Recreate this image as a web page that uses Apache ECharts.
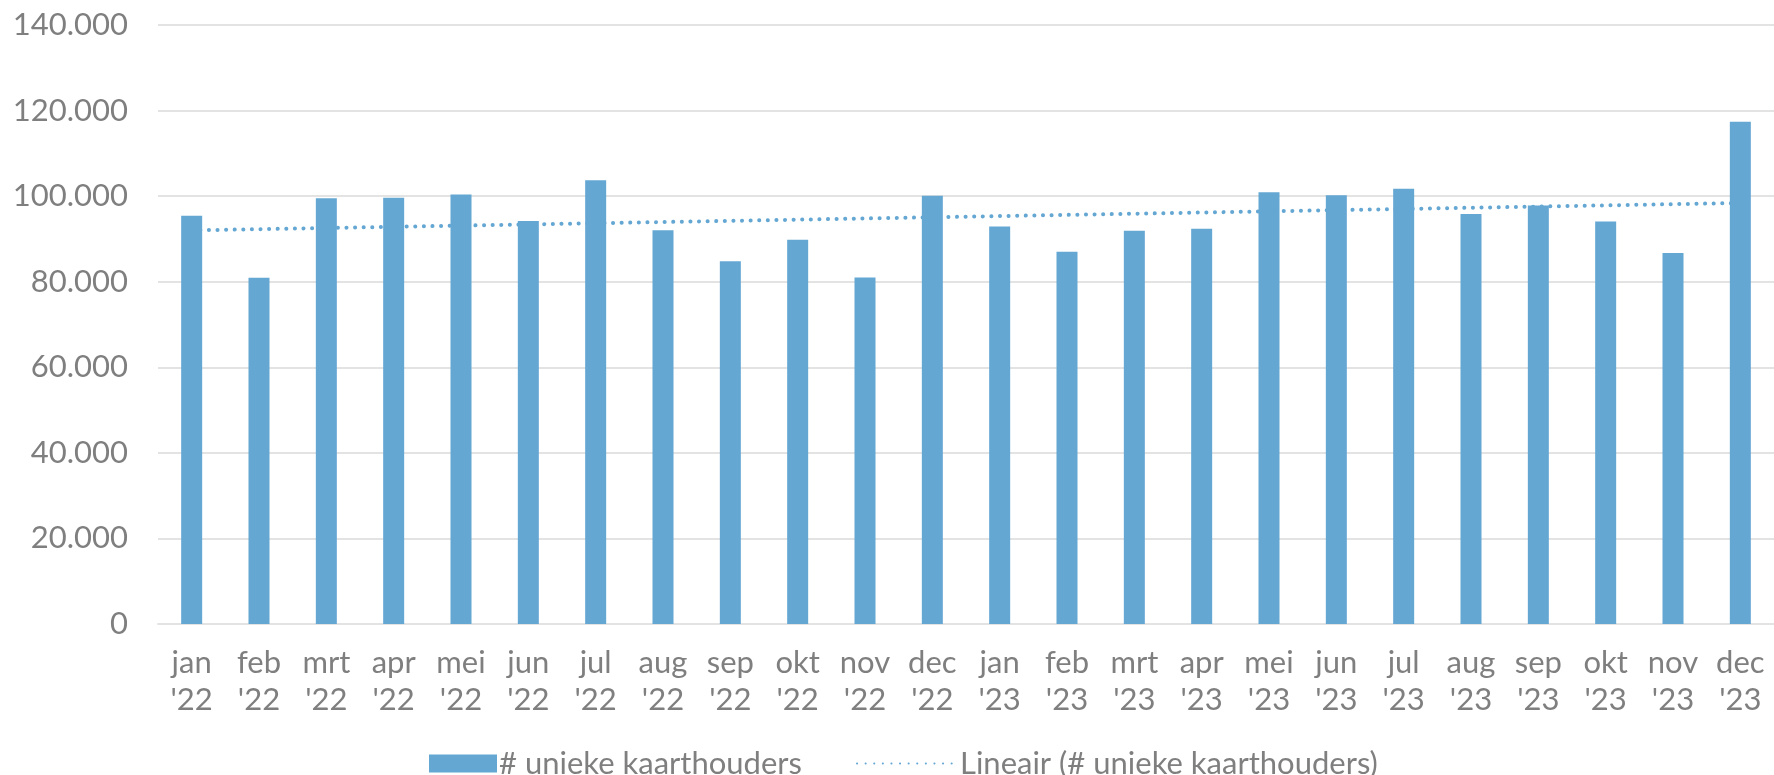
<!DOCTYPE html>
<html lang="nl">
<head>
    <meta charset="UTF-8">
    <title>Unieke kaarthouders</title>
    <script type="text/javascript" src="https://cdn.jsdelivr.net/npm/echarts@6/dist/echarts.min.js"></script>
    <style>
        html, body {
            width: 100%;
            height: 100%;
            margin: 0;
            padding: 0;
            background: #fff;
        }
        #main {
            width: 1774px;
            height: 775px;
        }
    </style>
</head>
<body>
    <div id="main"></div>
    <script>
        // data
        var months = ['jan', 'feb', 'mrt', 'apr', 'mei', 'jun', 'jul', 'aug', 'sep', 'okt', 'nov', 'dec'];
        var years = ["'22", "'23"];
        var kaarthouders = [
            95400, 80900, 99500, 99600, 100400, 94200, 103700, 92000, 84800, 89800, 81000, 100100,
            92900, 87000, 91900, 92400, 100900, 100200, 101700, 95800, 97800, 94100, 86700, 117400
        ];
        // trendline end points (first and last month)
        var trendStart = 92000;
        var trendEnd = 98400;

        var categories = [];
        years.forEach(function (y) {
            months.forEach(function (m) {
                categories.push(m + '\n' + y);
            });
        });

        var textColor = '#7f7f7f';
        var barColor = '#65a7d3';
        var font = 'Lato';

        function fmt(v) {
            return String(v).replace(/\B(?=(\d{3})+(?!\d))/g, '.');
        }

        var myChart = echarts.init(document.getElementById('main'));
        var option = {
            backgroundColor: '#fff',
            animation: false,
            textStyle: { fontFamily: font },
            grid: {
                left: 158,
                right: -3,
                top: 25,
                bottom: 151
            },
            legend: [{
                left: 424,
                bottom: -9,
                icon: 'rect',
                itemWidth: 68,
                itemHeight: 18,
                data: ['# unieke kaarthouders'],
                textStyle: { color: textColor, fontSize: 31, fontFamily: font, padding: [0, 0, 0, -3] }
            }, {
                left: 851,
                bottom: -9,
                itemWidth: 103,
                itemHeight: 18,
                itemStyle: { opacity: 0 },
                data: ['Lineair (# unieke kaarthouders)'],
                textStyle: { color: textColor, fontSize: 31, fontFamily: font, padding: [0, 0, 0, -5] }
            }],
            xAxis: {
                type: 'category',
                data: categories,
                axisTick: { show: false },
                axisLine: { lineStyle: { color: '#e3e3e3', width: 2 } },
                axisLabel: {
                    color: textColor,
                    fontSize: 31,
                    lineHeight: 37,
                    margin: 20,
                    interval: 0
                }
            },
            yAxis: {
                type: 'value',
                min: 0,
                max: 140000,
                interval: 20000,
                axisLine: { show: false },
                axisTick: { show: false },
                splitLine: { lineStyle: { color: '#e3e3e3', width: 2 } },
                axisLabel: {
                    color: textColor,
                    fontSize: 31,
                    margin: 30,
                    formatter: fmt
                }
            },
            series: [{
                name: '# unieke kaarthouders',
                type: 'bar',
                data: kaarthouders,
                barWidth: 21,
                itemStyle: { color: barColor }
            }, {
                name: 'Lineair (# unieke kaarthouders)',
                type: 'line',
                data: [[0, trendStart], [categories.length - 1, trendEnd]],
                symbol: 'none',
                z: 3,
                itemStyle: { color: barColor },
                lineStyle: {
                    color: barColor,
                    width: 4,
                    type: [0.1, 8.5],
                    cap: 'round'
                }
            }]
        };
        myChart.setOption(option);

        window.addEventListener('resize', function () {
            myChart.resize();
        });
    </script>
</body>
</html>
